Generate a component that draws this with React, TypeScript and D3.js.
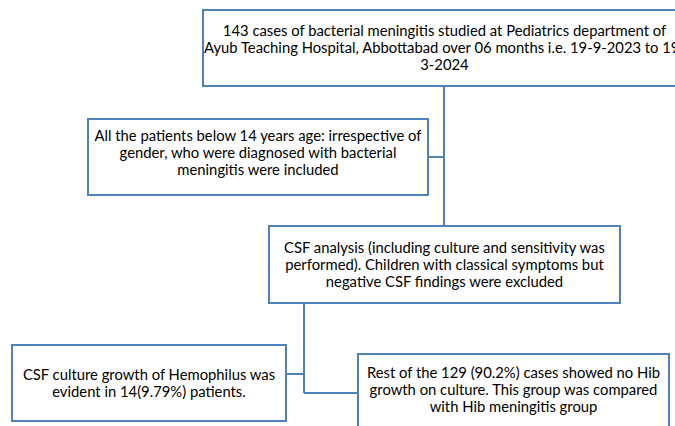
import React, { useEffect, useRef } from "react";
import * as d3 from "d3";

// Flowchart content
const box1Lines = [
  "143 cases of bacterial meningitis studied at Pediatrics department of",
  "Ayub Teaching Hospital, Abbottabad over 06 months i.e. 19-9-2023 to 19-",
  "3-2024",
];
const box2Lines = [
  "All the patients below 14 years age: irrespective of",
  "gender, who were diagnosed with bacterial",
  "meningitis were included",
];
const box3Lines = [
  "CSF analysis (including culture and sensitivity was",
  "performed). Children with classical symptoms but",
  "negative CSF findings were excluded",
];
const box4Lines = [
  "CSF culture growth of Hemophilus was",
  "evident in 14(9.79%) patients.",
];
const box5Lines = [
  "Rest of the 129 (90.2%) cases showed no Hib",
  "growth on culture. This group was compared",
  "with Hib meningitis group",
];

const W = 675;
const H = 426;
const STROKE = "#4f81bd";
const FONT = "Lato, 'Open Sans', sans-serif";
const FS = 14.8;
const LH = 17;

type Box = { lines: string[]; x0: number; x1: number; y0: number; y1: number; base: number };

export default function App() {
  const ref = useRef<SVGSVGElement | null>(null);

  useEffect(() => {
    const svg = d3.select(ref.current);
    svg.selectAll("*").remove();

    const boxes: Box[] = [
      { lines: box1Lines, x0: 203, x1: 686, y0: 10, y1: 86, base: 36 },
      { lines: box2Lines, x0: 88, x1: 428, y0: 119, y1: 195, base: 141 },
      { lines: box3Lines, x0: 269, x1: 620, y0: 226, y1: 303, base: 253 },
      { lines: box4Lines, x0: 12, x1: 286, y0: 345, y1: 421, base: 380 },
      { lines: box5Lines, x0: 358, x1: 669, y0: 354, y1: 440, base: 378 },
    ];

    const connectors: [number, number][][] = [
      [[444, 86], [444, 226]],
      [[428, 157], [444, 157]],
      [[304, 303], [304, 393]],
      [[286, 374], [304, 374]],
      [[304, 393], [358, 393]],
    ];

    const line = d3.line();
    svg
      .selectAll("path.conn")
      .data(connectors)
      .join("path")
      .attr("class", "conn")
      .attr("d", (d) => line(d) as string)
      .attr("fill", "none")
      .attr("stroke", STROKE)
      .attr("stroke-width", 2);

    const g = svg
      .selectAll("g.box")
      .data(boxes)
      .join("g")
      .attr("class", "box");

    g.append("rect")
      .attr("x", (d) => d.x0)
      .attr("y", (d) => d.y0)
      .attr("width", (d) => d.x1 - d.x0)
      .attr("height", (d) => d.y1 - d.y0)
      .attr("fill", "#fff")
      .attr("stroke", STROKE)
      .attr("stroke-width", 2);

    g.each(function (d) {
      const cx = (d.x0 + d.x1) / 2;
      d3.select(this)
        .selectAll("text")
        .data(d.lines)
        .join("text")
        .attr("x", cx)
        .attr("y", (_, i) => d.base + i * LH)
        .attr("text-anchor", "middle")
        .attr("font-family", FONT)
        .attr("font-size", FS)
        .attr("fill", "#000")
        .text((t) => t);
    });
  }, []);

  return (
    <svg
      ref={ref}
      width={W}
      height={H}
      style={{ position: "absolute", left: 0, top: 0, background: "#fff" }}
    />
  );
}
